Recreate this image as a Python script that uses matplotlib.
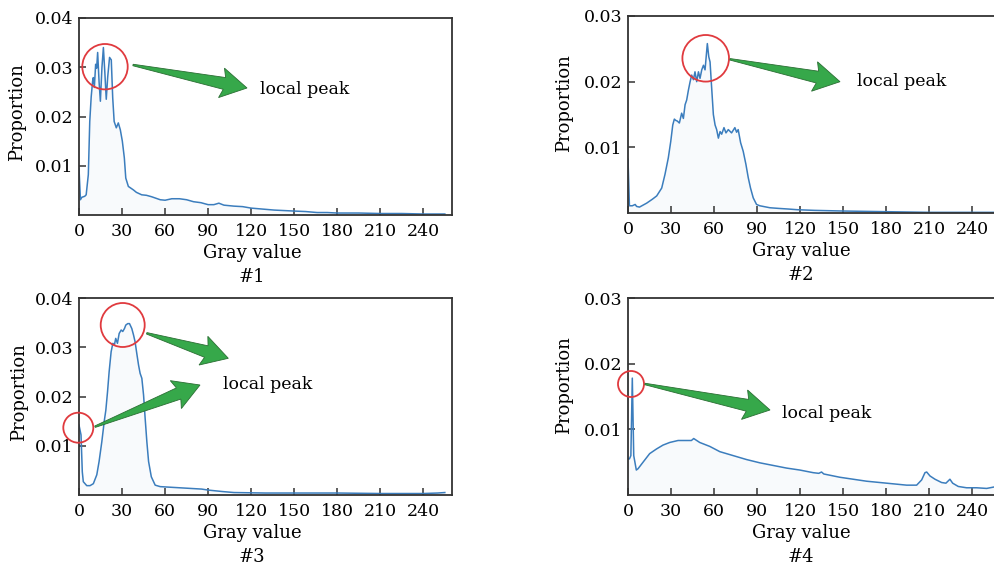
import matplotlib
matplotlib.use("Agg")
import numpy as np
import matplotlib.pyplot as plt
from matplotlib.patches import Circle, Polygon

plt.rcParams['font.family'] = ['DejaVu Serif']
plt.rcParams['font.size'] = 12

# gray histograms (gray value, proportion)
g1 = [0, 1, 2, 4, 5, 6.5, 7.5, 8.5, 9.5, 10, 10.7, 11.6, 12.3, 13, 14, 14.9, 16, 17, 18, 19,
      20, 21.3, 22.5, 23.5, 24.5, 26, 27.4, 28.8, 30.2, 31.6, 32.6, 34.4, 37.9, 40, 43.7,
      47, 50.7, 56.6, 60, 64.7, 70, 75, 79.8, 85, 90, 94, 97.5, 101, 108, 114,
      120, 128, 136, 143, 150, 158, 166, 173, 180, 195, 210, 225, 240, 255]
p1 = [0.0095, 0.0031, 0.0036, 0.0038, 0.0041, 0.0082, 0.0190, 0.0240, 0.0272, 0.0279,
      0.0259, 0.0306, 0.0298, 0.0330, 0.0270, 0.0231, 0.0300, 0.0340, 0.0290, 0.0235,
      0.0280, 0.0320, 0.0315, 0.0238, 0.0190, 0.0177, 0.0187, 0.0173, 0.0150, 0.0116,
      0.0075, 0.0058, 0.0051, 0.0046, 0.0041, 0.0040, 0.0037, 0.0031, 0.0030, 0.0033,
      0.0033, 0.0031, 0.0027, 0.0025, 0.0021, 0.0021, 0.0024, 0.0020, 0.0018, 0.0017,
      0.0014, 0.0012, 0.0010, 0.0009, 0.0008, 0.0007, 0.0005, 0.0005, 0.0004, 0.0004,
      0.0003, 0.0003, 0.0002, 0.0002]

g2 = [0, 1, 3, 5, 6, 8, 13, 17, 20, 23.5, 25.8, 28.1, 29.8, 31.2, 32.3, 33.3, 34.4, 35.8,
      37.4, 38.6, 39.8, 40.9, 42.1, 43.3, 44.4, 45.6, 46.7, 47.9, 49.1, 50.2, 51.4, 52.6,
      53.7, 55.3, 56.3, 57.2, 58.1, 59.5, 60.7, 61.8, 63, 64.2, 65.3, 66.9, 68.3, 69.9,
      72.2, 74.5, 75.7, 76.8, 78.5, 80.3, 82.2, 83.8, 85.4, 87.3, 89.6, 91.9, 98.9, 105,
      112, 118, 130, 150, 180, 210, 240, 255]
p2 = [0.0082, 0.0011, 0.0011, 0.0013, 0.0010, 0.0009, 0.0015, 0.0021, 0.0026, 0.0038,
      0.0059, 0.0084, 0.0109, 0.0134, 0.0143, 0.0141, 0.0140, 0.0137, 0.0152, 0.0144,
      0.0165, 0.0172, 0.0187, 0.0200, 0.0210, 0.0203, 0.0215, 0.0200, 0.0215, 0.0205,
      0.0218, 0.0225, 0.0218, 0.0258, 0.0238, 0.0230, 0.0198, 0.0150, 0.0134, 0.0127,
      0.0114, 0.0124, 0.0120, 0.0130, 0.0122, 0.0127, 0.0122, 0.0130, 0.0123, 0.0127,
      0.0107, 0.0094, 0.0074, 0.0054, 0.0038, 0.0023, 0.0013, 0.0011, 0.0008, 0.0007,
      0.0006, 0.0005, 0.0004, 0.0003, 0.0002, 0.0001, 0.0001, 0.0001]

g3 = [0, 1.4, 2.3, 3, 5.4, 7.7, 10, 12.4, 14, 15.9, 17.7, 18.7, 19.9, 21, 22.4, 23.6, 24.7,
      25.6, 26.8, 28, 29.4, 30.5, 31.7, 32.6, 34, 35.2, 36.8, 38, 39.1, 40.3, 41.5, 42.6,
      43.8, 45, 46.1, 47.3, 48.5, 50.4, 53.1, 56.6, 62.4, 74, 85.6, 90, 100, 108, 130,
      150, 180, 210, 240, 250, 255]
p3 = [0.0142, 0.0122, 0.0047, 0.0027, 0.0019, 0.0019, 0.0023, 0.0041, 0.0068, 0.0108,
      0.0152, 0.0172, 0.0210, 0.0250, 0.0291, 0.0308, 0.0305, 0.0318, 0.0308, 0.0328,
      0.0335, 0.0332, 0.0338, 0.0345, 0.0348, 0.0348, 0.0338, 0.0325, 0.0311, 0.0287,
      0.0264, 0.0247, 0.0237, 0.0203, 0.0156, 0.0108, 0.0068, 0.0037, 0.0020, 0.0017,
      0.0016, 0.0014, 0.0012, 0.0010, 0.0007, 0.0005, 0.0004, 0.0004, 0.0004, 0.0003,
      0.0003, 0.0004, 0.0005]

g4 = [0, 1, 2, 3, 4, 5.8, 7, 10.5, 15.1, 19.8, 24.4, 29.1, 34.9, 40.7, 44.2, 45.8, 50, 57,
      64, 73.3, 82.6, 91.9, 101.2, 110.5, 119.8, 129.1, 133, 134.9, 136.5, 147.7, 157,
      166.3, 175.6, 184.9, 194.2, 201.2, 204.7, 207, 208.2, 210.5, 214, 218.6, 221.6,
      224.4, 226.3, 230.2, 236, 243, 250, 254.7]
p4 = [0.0055, 0.0055, 0.0060, 0.0178, 0.0060, 0.0038, 0.0040, 0.0050, 0.0063, 0.0070,
      0.0076, 0.0080, 0.0083, 0.0083, 0.0083, 0.0086, 0.0080, 0.0074, 0.0066, 0.0060,
      0.0054, 0.0049, 0.0045, 0.0041, 0.0038, 0.0034, 0.0033, 0.0035, 0.0032, 0.0027,
      0.0024, 0.0021, 0.0019, 0.0017, 0.0015, 0.0015, 0.0023, 0.0034, 0.0035, 0.0029,
      0.0024, 0.0019, 0.0018, 0.0024, 0.0018, 0.0013, 0.0011, 0.0011, 0.0010, 0.0012]

xticks = [0, 30, 60, 90, 120, 150, 180, 210, 240]
names = ['#1', '#2', '#3', '#4']

W, H = 995, 569
fig = plt.figure(figsize=(W / 100, H / 100), dpi=100)


def rect(x0, top, w, h):
    return [x0 / W, 1 - (top + h) / H, w / W, h / H]


def px(x, y):
    # pixel (top-left origin) -> inches for dpi_scale_trans
    return (x / 100, (H - y) / 100)


panels = [
    (rect(79, 18, 373, 197), g1, p1, 0.04, -0.141, 0.523),
    (rect(628, 16, 373, 197), g2, p2, 0.03, -0.147, 0.558),
    (rect(79, 298, 373, 197), g3, p3, 0.04, -0.137, 0.524),
    (rect(628, 298, 373, 197), g4, p4, 0.03, -0.147, 0.558),
]

line_c = '#3b7dbd'
for i, (r, g, p, ymax, ylx, yly) in enumerate(panels):
    ax = fig.add_axes(r)
    ax.fill_between(g, p, color=line_c, alpha=0.03, lw=0)
    ax.plot(g, p, color=line_c, lw=1.1)
    ax.set_xlim(0, 260)
    ax.set_ylim(0, ymax)
    ax.set_xticks(xticks)
    ax.set_xticklabels([str(t) for t in xticks])
    yt = [0.01, 0.02, 0.03] if ymax == 0.03 else [0.01, 0.02, 0.03, 0.04]
    ax.set_yticks(yt)
    ax.set_yticklabels(['%.2f' % v for v in yt])
    ax.tick_params(direction='in', length=5, width=1.1, color='#333333', labelsize=12.5)
    ax.tick_params(axis='x', pad=6)
    ax.tick_params(axis='y', pad=4)
    for s in ax.spines.values():
        s.set_color('#333333')
        s.set_linewidth(1.3)
    ax.set_xlabel('Gray value', fontsize=13)
    ax.xaxis.set_label_coords(0.464, -0.145)
    ax.set_ylabel('Proportion', fontsize=13)
    ax.yaxis.set_label_coords(ylx, yly)
    ax.text(0.464, -0.315, names[i], transform=ax.transAxes, ha='center', va='center',
            fontsize=13)

tr = fig.dpi_scale_trans

circles = [(105, 66.7, 22.7), (705.7, 58.3, 23.3), (122.7, 325, 22), (78.3, 427.7, 15),
           (631, 384, 13)]
for cx, cy, cr in circles:
    fig.add_artist(Circle(px(cx, cy), cr / 100, transform=tr, fill=False,
                          edgecolor='#e03a3e', lw=1.3))


def arrow_poly(a, b, hl=23, hw=30, tw=12, t0=1.5):
    a = np.array(a, float)
    b = np.array(b, float)
    d = (b - a) / np.hypot(*(b - a))
    n = np.array([-d[1], d[0]])
    neck = b - d * hl
    back = neck - d * 3
    pts = [a + n * t0 / 2, neck + n * tw / 2, back + n * hw / 2, b,
           back - n * hw / 2, neck - n * tw / 2, a - n * t0 / 2]
    return [px(x, y) for x, y in pts]


arrows = [((133, 65), (247, 88)), ((730, 59.3), (840, 81.7)), ((146.7, 333.3), (228.3, 358.3)),
          ((95, 426.7), (200, 385)), ((645, 384), (770, 410))]
for a, b in arrows:
    fig.add_artist(Polygon(arrow_poly(a, b), closed=True, transform=tr,
                           facecolor='#36a84a', edgecolor='#2a6e33', lw=0.6))

labels = [(260, 90), (857, 81.7), (222.7, 384.3), (781.7, 414)]
for x, y in labels:
    fig.text(x / W, 1 - y / H, 'local peak', ha='left', va='center', fontsize=12.5)

fig.savefig('out.png', dpi=100)
